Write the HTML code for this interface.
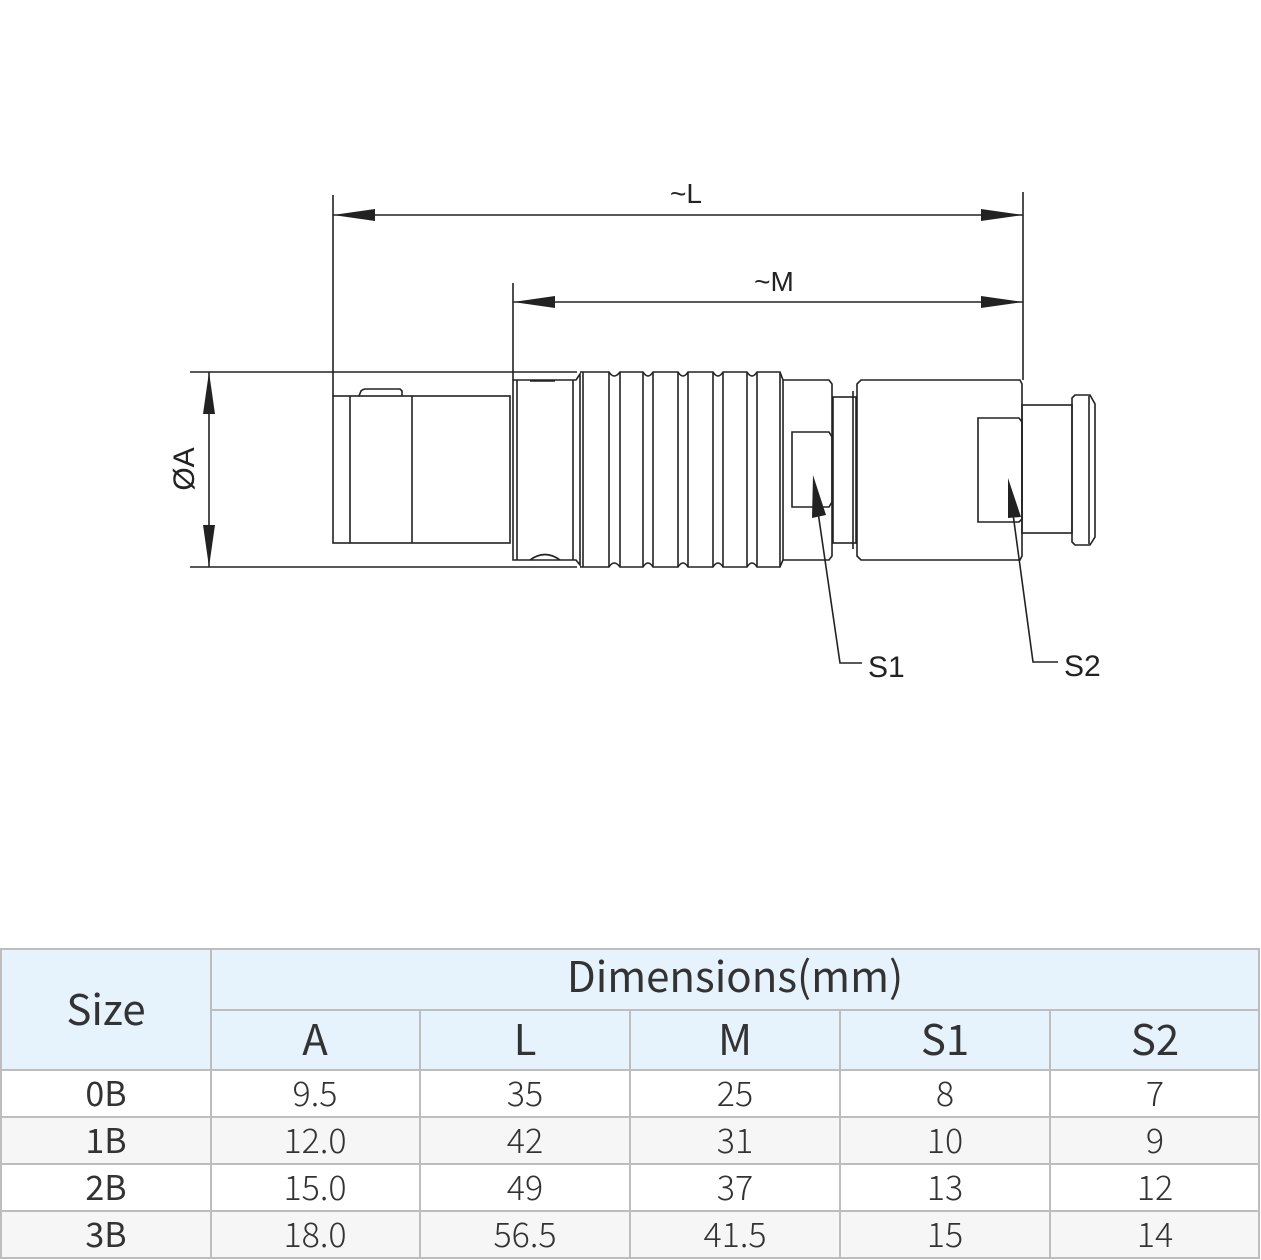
<!DOCTYPE html>
<html><head><meta charset="utf-8"><style>
html,body{margin:0;padding:0;background:#fff;}
svg{display:block}
.t{font-family:"Noto Sans CJK JP","Liberation Sans",sans-serif;fill:#333;text-anchor:middle}
.d{font-family:"Liberation Sans",sans-serif;fill:#222}
</style></head><body>
<svg width="1261" height="1260" viewBox="0 0 1261 1260" xmlns="http://www.w3.org/2000/svg">
<g stroke="#222" stroke-width="1.6" fill="none">
<!-- extension lines -->
<line x1="333" y1="195" x2="333" y2="396"/>
<line x1="513" y1="283" x2="513" y2="380"/>
<line x1="1023" y1="192" x2="1023" y2="380"/>
<line x1="190" y1="372" x2="577" y2="372"/>
<line x1="190" y1="567" x2="577" y2="567"/>
<!-- dim lines -->
<line x1="333" y1="215" x2="1023" y2="215"/>
<line x1="513" y1="302" x2="1023" y2="302"/>
<line x1="209" y1="372" x2="209" y2="567"/>
<!-- left piece -->
<rect x="333" y="396" width="177" height="147"/>
<line x1="350" y1="396" x2="350" y2="543"/>
<line x1="412" y1="396" x2="412" y2="543"/>
<path d="M359 396 L361 391 Q363 389 366 389 L400 389 L402 391 L402 396"/>
<!-- ring box -->
<path d="M513 380 L576 380 L580 374 L580 565 L576 560 L513 560 Z"/>
<line x1="517" y1="380" x2="517" y2="560"/>
<line x1="573" y1="380" x2="573" y2="560"/>
<path d="M530 560 Q545 549 560 560"/>
<line x1="530" y1="381" x2="555" y2="381"/>
<!-- knurl -->
<path d="M580 372 L609 372 Q614 380 620 372 L643 372 Q648 380 653 372 L678 372 Q683 380 688 372 L713 372 Q718 380 723 372 L747 372 Q752 380 757 372 L780 372 L783 380 L783 560 L780 567 L757 567 Q752 559 747 567 L723 567 Q718 559 713 567 L688 567 Q683 559 678 567 L653 567 Q648 559 643 567 L620 567 Q614 559 609 567 L580 567"/>
<line x1="583" y1="372" x2="583" y2="567"/>
<line x1="609" y1="372" x2="609" y2="567"/>
<line x1="620" y1="372" x2="620" y2="567"/>
<line x1="643" y1="372" x2="643" y2="567"/>
<line x1="653" y1="372" x2="653" y2="567"/>
<line x1="678" y1="372" x2="678" y2="567"/>
<line x1="688" y1="372" x2="688" y2="567"/>
<line x1="713" y1="372" x2="713" y2="567"/>
<line x1="723" y1="372" x2="723" y2="567"/>
<line x1="747" y1="372" x2="747" y2="567"/>
<line x1="757" y1="372" x2="757" y2="567"/>
<line x1="780" y1="372" x2="780" y2="567"/>
<!-- section 3 -->
<path d="M783 380 L829 380 L832 384 L832 556 L829 560 L783 560"/>
<path d="M792 432 L829 432 L832 437 L832 502 L829 507 L792 507 Z"/>
<!-- neck -->
<rect x="833" y="397" width="23" height="146"/>
<line x1="853" y1="391" x2="853" y2="549"/>
<!-- body2 -->
<path d="M861 380 L1020 380 L1022 384 L1022 556 L1020 560 L861 560 L857 556 L857 384 Z"/>
<path d="M978 418 L1019 418 L1022 422 L1022 519 L1019 522 L978 522 Z"/>
<!-- plug -->
<rect x="1022" y="405" width="50" height="128"/>
<path d="M1072 398 L1075 395 L1090 395 L1095 404 L1095 537 L1090 545 L1075 545 L1072 542 Z"/>
<line x1="1089" y1="396" x2="1089" y2="544"/>
<!-- leaders -->
<polyline points="818,512 840,663 862,663"/>
<polyline points="1013,514 1033,662 1058,662"/>
</g>
<g fill="#222">
<polygon points="333,215 375,209 375,221"/>
<polygon points="1023,215 981,209 981,221"/>
<polygon points="513,302 555,296 555,308"/>
<polygon points="1023,302 981,296 981,308"/>
<polygon points="209,372 203,414 215,414"/>
<polygon points="209,567 203,525 215,525"/>
<polygon points="813,475 812,518 826,515"/>
<polygon points="1008,478 1008,518 1021,517"/>
</g>
<text class="d" x="686" y="203" font-size="28" text-anchor="middle">~L</text>
<text class="d" x="774" y="291" font-size="28" text-anchor="middle">~M</text>
<text class="d" x="868" y="677" font-size="30">S1</text>
<text class="d" x="1064" y="676" font-size="30">S2</text>
<text class="d" x="0" y="0" font-size="30" text-anchor="middle" transform="translate(194,469) rotate(-90)">ØA</text>
<!-- table -->
<rect x="1" y="949" width="1258" height="121" fill="#e7f3fc"/>
<rect x="1" y="1117" width="1258" height="47" fill="#f6f6f6"/>
<rect x="1" y="1211" width="1258" height="47" fill="#f6f6f6"/>
<g stroke="#bdbdbd" stroke-width="2" fill="none">
<rect x="1" y="949" width="1258" height="309"/>
<line x1="211" y1="1010" x2="1259" y2="1010"/>
<line x1="1" y1="1070" x2="1259" y2="1070"/>
<line x1="1" y1="1117" x2="1259" y2="1117"/>
<line x1="1" y1="1164" x2="1259" y2="1164"/>
<line x1="1" y1="1211" x2="1259" y2="1211"/>
<line x1="211" y1="949" x2="211" y2="1258"/>
<line x1="420" y1="1010" x2="420" y2="1258"/>
<line x1="630" y1="1010" x2="630" y2="1258"/>
<line x1="840" y1="1010" x2="840" y2="1258"/>
<line x1="1050" y1="1010" x2="1050" y2="1258"/>
</g>
<g class="t" font-size="42">
<text x="106" y="1025">Size</text>
<text x="735" y="992">Dimensions(mm)</text>
<text x="315" y="1055">A</text><text x="525" y="1055">L</text><text x="735" y="1055">M</text><text x="945" y="1055">S1</text><text x="1155" y="1055">S2</text>
</g>
<g class="t" font-size="34">
<text x="106" y="1106">0B</text><text x="106" y="1153">1B</text><text x="106" y="1200">2B</text><text x="106" y="1247">3B</text>
</g>
<g class="t" font-size="34" font-weight="300">
<text x="315" y="1106">9.5</text><text x="525" y="1106">35</text><text x="735" y="1106">25</text><text x="945" y="1106">8</text><text x="1155" y="1106">7</text>
<text x="315" y="1153">12.0</text><text x="525" y="1153">42</text><text x="735" y="1153">31</text><text x="945" y="1153">10</text><text x="1155" y="1153">9</text>
<text x="315" y="1200">15.0</text><text x="525" y="1200">49</text><text x="735" y="1200">37</text><text x="945" y="1200">13</text><text x="1155" y="1200">12</text>
<text x="315" y="1247">18.0</text><text x="525" y="1247">56.5</text><text x="735" y="1247">41.5</text><text x="945" y="1247">15</text><text x="1155" y="1247">14</text>
</g>
</svg>
</body></html>
